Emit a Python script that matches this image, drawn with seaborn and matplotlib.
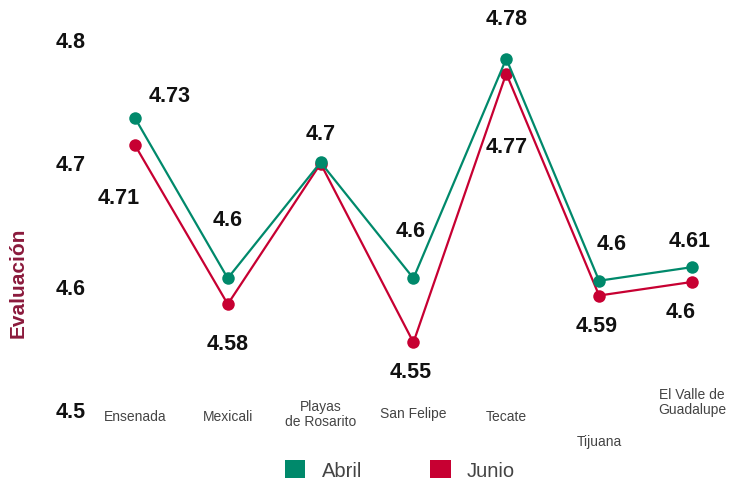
import matplotlib
matplotlib.use("Agg")
import matplotlib.pyplot as plt
import matplotlib.transforms as mtransforms
from matplotlib.patches import Patch
import seaborn as sns
import pandas as pd

# Datos
municipios = ["Ensenada", "Mexicali", "Playas\nde Rosarito", "San Felipe",
              "Tecate", "Tijuana", "El Valle de\nGuadalupe"]
abril = [4.736, 4.606, 4.700, 4.606, 4.784, 4.604, 4.615]
junio = [4.714, 4.585, 4.699, 4.554, 4.772, 4.592, 4.603]
etiquetas_abril = ["4.73", "4.6", "4.7", "4.6", "4.78", "4.6", "4.61"]
etiquetas_junio = ["4.71", "4.58", "", "4.55", "4.77", "4.59", "4.6"]
ticks_y = [4.5, 4.6, 4.7, 4.8]

verde = "#00896b"
rojo = "#c70032"

df = pd.DataFrame({
    "pos": list(range(len(municipios))) * 2,
    "valor": junio + abril,
    "mes": ["Junio"] * len(junio) + ["Abril"] * len(abril),
})

sns.set_theme(style="white")
plt.rcParams["font.family"] = ["Liberation Sans", "DejaVu Sans"]

fig = plt.figure(figsize=(7.33, 4.85), dpi=100)
ax = fig.add_axes([95 / 733, 75 / 485, 635 / 733, 380 / 485])

sns.lineplot(
    data=df, x="pos", y="valor", hue="mes",
    hue_order=["Junio", "Abril"], palette=[rojo, verde],
    marker="o", markersize=9, markeredgewidth=0, linewidth=1.6,
    legend=False, ax=ax,
)

ax.set_xlim(-0.43, 6.41)
ax.set_ylim(4.5, 4.8081)
ax.set_yticks(ticks_y)
ax.set_yticklabels([str(t) for t in ticks_y], fontsize=15.5, fontweight="bold", color="#111111")
ax.tick_params(axis="y", length=0, pad=7)
ax.set_xticks([])
ax.set_xlabel("")
ax.set_ylabel("")
sns.despine(ax=ax, left=True, bottom=True)

# Etiquetas de categorías (desplazamiento vertical en puntos)
desp_cat = [-5, -5, -3, -3, -5, -23, 5.5]
trans = mtransforms.blended_transform_factory(ax.transData, ax.transAxes)
for i, (nombre, dy) in enumerate(zip(municipios, desp_cat)):
    ax.annotate(nombre, xy=(i, 0), xycoords=trans, xytext=(0, dy),
                textcoords="offset points", ha="center", va="center",
                fontsize=10, color="#444444", linespacing=1.1)

# Etiquetas de valores
desp_abril = [(25, 16.5), (0, 42.5), (0, 21), (-2, 34.5), (0, 29), (9, 27), (-2, 19.5)]
desp_junio = [(-12, -38), (0, -28), (0, 0), (-2, -21), (0, -52.5), (-2, -21.5), (-8, -21.5)]
for i in range(len(municipios)):
    if etiquetas_abril[i]:
        ax.annotate(etiquetas_abril[i], xy=(i, abril[i]), xytext=desp_abril[i],
                    textcoords="offset points", ha="center", va="center",
                    fontsize=15.5, fontweight="bold", color="#111111")
    if etiquetas_junio[i]:
        ax.annotate(etiquetas_junio[i], xy=(i, junio[i]), xytext=desp_junio[i],
                    textcoords="offset points", ha="center", va="center",
                    fontsize=15.5, fontweight="bold", color="#111111")

fig.text(18 / 733, 1 - 283 / 485, "Evaluación", rotation=90, ha="center", va="center",
         fontsize=15, fontweight="bold", color="#8b1a3c")

handles = [Patch(facecolor=verde, edgecolor="none", label="Abril"),
           Patch(facecolor=rojo, edgecolor="none", label="Junio")]
fig.legend(handles=handles, loc="center", bbox_to_anchor=(400 / 733, 14 / 485),
           ncol=2, frameon=False, fontsize=14.5, labelcolor="#444444",
           handlelength=1.0, handleheight=1.0, handletextpad=0.8, columnspacing=3.4)

fig.savefig("out.png", dpi=100)
